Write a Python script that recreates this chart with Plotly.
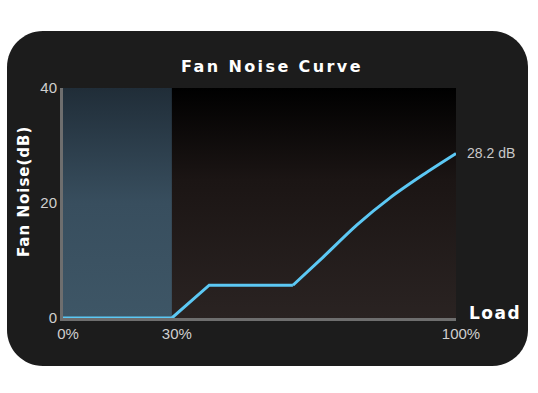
import plotly.graph_objects as go

# ---- data (load axis position in %, noise in dB) ----
load = [0, 27.7, 37.2, 58.5, 66.2, 74.8, 83.2, 91.6, 100]
noise = [0, 0, 5.7, 5.7, 10.6, 16.2, 20.9, 24.9, 28.6]
tick_pos = [0, 27.7, 100]
tick_text = ["0%", "30%", "100%"]
y_ticks = [0, 20, 40]
zone_end = 27.7  # 30% load marker
end_label = "28.2 dB"
ramp_start = 3  # index where the smooth ramp begins

W, H = 538, 393
ML, MR, MT, MB = 63, 82, 88, 75
PW, PH = W - ML - MR, H - MT - MB


def px2paper(px, py):
    return (px - ML) / PW, (H - MB - py) / PH


def rounded_rect(x0, y0, x1, y1, r):
    k = 0.5523 * r

    def P(x, y):
        a, b = px2paper(x, y)
        return f"{a:.5f},{b:.5f}"
    d = f"M {P(x0 + r, y0)} L {P(x1 - r, y0)} "
    d += f"C {P(x1 - r + k, y0)} {P(x1, y0 + r - k)} {P(x1, y0 + r)} "
    d += f"L {P(x1, y1 - r)} "
    d += f"C {P(x1, y1 - r + k)} {P(x1 - r + k, y1)} {P(x1 - r, y1)} "
    d += f"L {P(x0 + r, y1)} "
    d += f"C {P(x0 + r - k, y1)} {P(x0, y1 - r + k)} {P(x0, y1 - r)} "
    d += f"L {P(x0, y0 + r)} "
    d += f"C {P(x0, y0 + r - k)} {P(x0 + r - k, y0)} {P(x0 + r, y0)} Z"
    return d


def spaced(txt, ls):
    return f'<span style="letter-spacing:{ls}px"><b>{txt}</b></span>'


fig = go.Figure()

# plot background gradient
fig.add_trace(go.Scatter(
    x=[tick_pos[0], tick_pos[-1], tick_pos[-1], tick_pos[0]],
    y=[y_ticks[0], y_ticks[0], y_ticks[-1], y_ticks[-1]],
    fill="toself", mode="none", hoverinfo="skip", showlegend=False,
    fillgradient=dict(type="vertical", start=y_ticks[0], stop=y_ticks[-1],
                      colorscale=[[0, "#2a2322"], [0.6, "#1b1514"], [1, "#000000"]]),
))
# low-load zone gradient
fig.add_trace(go.Scatter(
    x=[tick_pos[0], zone_end, zone_end, tick_pos[0]],
    y=[y_ticks[0], y_ticks[0], y_ticks[-1], y_ticks[-1]],
    fill="toself", mode="none", hoverinfo="skip", showlegend=False,
    fillgradient=dict(type="vertical", start=y_ticks[0], stop=y_ticks[-1],
                      colorscale=[[0, "#3e5666"], [0.5, "#384e5e"], [1, "#202d38"]]),
))
# noise curve: linear steps, then smooth ramp
fig.add_trace(go.Scatter(
    x=load[:ramp_start + 1], y=noise[:ramp_start + 1], mode="lines", showlegend=False,
    line=dict(color="#5cc8f4", width=3),
))
fig.add_trace(go.Scatter(
    x=load[ramp_start:], y=noise[ramp_start:], mode="lines", showlegend=False,
    line=dict(color="#5cc8f4", width=3, shape="spline", smoothing=0.8),
))

fig.add_shape(type="path", xref="paper", yref="paper", layer="below",
              path=rounded_rect(7, 31, 528, 366, 36),
              fillcolor="#1c1c1c", line=dict(width=0))

fig.add_annotation(x=load[-1], y=noise[-1], xref="x", yref="y", text=end_label,
                   showarrow=False, xanchor="left", xshift=9, yshift=1,
                   font=dict(family="Liberation Sans", size=14, color="#c8c8c8"))
fig.add_annotation(x=1, y=0, xref="paper", yref="paper", text=spaced("Load", 1.5),
                   showarrow=False, xanchor="left", yanchor="middle", xshift=11, yshift=5,
                   font=dict(family="DejaVu Sans", size=17, color="#ffffff"))
ax, ay = px2paper(24, 192)
fig.add_annotation(x=ax, y=ay, xref="paper", yref="paper", text=spaced("Fan Noise(dB)", 1.0),
                   showarrow=False, textangle=-90, xanchor="center", yanchor="middle",
                   font=dict(family="DejaVu Sans", size=15, color="#ffffff"))

tx, _ = px2paper(272, 0)
fig.update_layout(
    width=W, height=H,
    margin=dict(l=ML, r=MR, t=MT, b=MB),
    paper_bgcolor="#ffffff", plot_bgcolor="rgba(0,0,0,0)",
    title=dict(text=spaced("Fan Noise Curve", 2.4), x=tx, xref="paper", xanchor="center",
               y=(H - 66) / H, yanchor="middle",
               font=dict(family="DejaVu Sans", size=16, color="#ffffff")),
    xaxis=dict(range=[tick_pos[0], tick_pos[-1]], tickvals=tick_pos, ticktext=tick_text,
               showgrid=False, zeroline=False, showline=True, linecolor="#6e6e6e",
               linewidth=3, ticks="", ticklabelshift=5,
               tickfont=dict(family="Liberation Sans", size=15, color="#cfcfcf")),
    yaxis=dict(range=[y_ticks[0], y_ticks[-1]], tickvals=y_ticks,
               showgrid=False, zeroline=False, showline=True, linecolor="#6e6e6e",
               linewidth=3, ticks="",
               tickfont=dict(family="Liberation Sans", size=15, color="#cfcfcf")),
)

fig.write_html("out.html")
